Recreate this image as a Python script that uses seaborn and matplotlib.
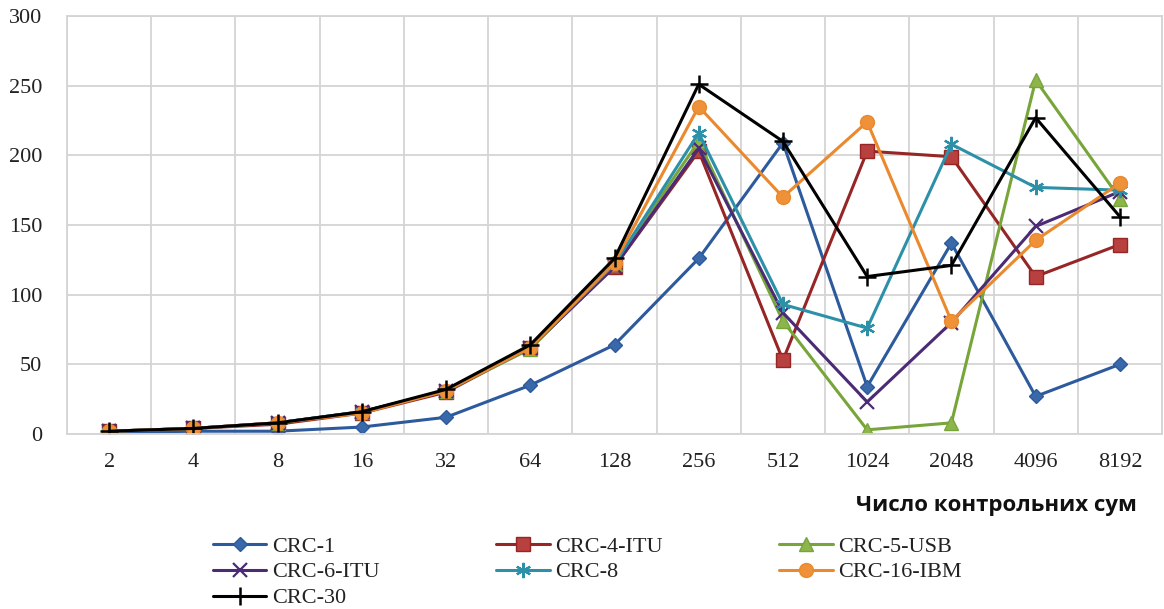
import numpy as np
import pandas as pd
import matplotlib
matplotlib.use("Agg")
import matplotlib.pyplot as plt
import seaborn as sns

categories = ['2', '4', '8', '16', '32', '64', '128', '256', '512', '1024', '2048', '4096', '8192']
crc1 = [1, 2, 2, 5, 12, 35, 64, 126, 209, 34, 137, 27, 50]
crc4_itu = [2, 4, 7, 15, 30, 62, 120, 203, 53, 203, 199, 113, 136]
crc5_usb = [2, 4, 8, 16, 31, 61, 122, 210, 81, 3, 8, 254, 169]
crc6_itu = [2, 4, 8, 16, 31, 62, 120, 205, 87, 23, 80, 149, 174]
crc8 = [2, 4, 8, 16, 31, 62, 122, 216, 93, 76, 208, 177, 175]
crc16_ibm = [2, 4, 8, 15, 31, 62, 123, 235, 170, 224, 81, 139, 180]
crc30 = [2, 4, 8, 16, 32, 64, 126, 251, 210, 113, 121, 227, 156]

series_names = ['CRC-1', 'CRC-4-ITU', 'CRC-5-USB', 'CRC-6-ITU', 'CRC-8', 'CRC-16-IBM', 'CRC-30']
series_values = [crc1, crc4_itu, crc5_usb, crc6_itu, crc8, crc16_ibm, crc30]
yticks = [0, 50, 100, 150, 200, 250, 300]
xlabel = 'Число контрольних сум'

styles = {
    'CRC-1':      dict(color='#2c5a9c', marker='D', mfc='#3a69aa', mec='#2c5a9c', ms=7.5, mew=1.0),
    'CRC-4-ITU':  dict(color='#962626', marker='s', mfc='#b8403e', mec='#962626', ms=9.5, mew=1.0),
    'CRC-5-USB':  dict(color='#78a53a', marker='^', mfc='#8db54c', mec='#78a53a', ms=10, mew=1.0),
    'CRC-6-ITU':  dict(color='#4b2b75', marker='x', mfc='none', mec='#4b2b75', ms=10, mew=1.6),
    'CRC-8':      dict(color='#2d90a9', marker=(6, 2, 0), mfc='none', mec='#2d90a9', ms=11, mew=1.6),
    'CRC-16-IBM': dict(color='#ea892d', marker='o', mfc='#ee9138', mec='#ea892d', ms=10, mew=1.0),
    'CRC-30':     dict(color='#000000', marker='+', mfc='none', mec='#000000', ms=13, mew=1.8),
}

sns.set_theme(style='white')
plt.rcParams['font.family'] = ['Liberation Serif', 'DejaVu Serif']

fig = plt.figure(figsize=(11.64, 6.09), dpi=100)
ax = fig.add_axes([67 / 1164, (609 - 434) / 609, (1162 - 67) / 1164, (434 - 16) / 609])

pos = np.arange(len(categories))
handles = {}
for name, vals in zip(series_names, series_values):
    df = pd.DataFrame({'x': pos, 'y': vals})
    st = styles[name]
    sns.lineplot(data=df, x='x', y='y', ax=ax, color=st['color'], linewidth=2.2,
                 marker=st['marker'], markersize=st['ms'], markerfacecolor=st['mfc'],
                 markeredgecolor=st['mec'], markeredgewidth=st['mew'], legend=False,
                 sort=False)
    handles[name] = ax.lines[-1]

ax.set_xlim(-0.5, len(categories) - 0.5)
ax.set_ylim(0, 300)
ax.set_yticks(yticks)
ax.set_xticks(pos)
ax.set_xticklabels(categories)
ax.set_xticks(np.arange(-0.5, len(categories), 1), minor=True)
ax.grid(False)
ax.grid(True, axis='y', which='major', color='#d4d4d4', linewidth=1.3)
ax.grid(True, axis='x', which='minor', color='#d4d4d4', linewidth=1.3)
ax.set_axisbelow(True)
for sp in ax.spines.values():
    sp.set_color('#d4d4d4')
    sp.set_linewidth(1.3)
ax.tick_params(axis='both', which='both', length=0, labelsize=16, colors='#222222')
ax.tick_params(axis='y', pad=18)
ax.tick_params(axis='x', pad=14)
ax.set_xlabel('')
ax.set_ylabel('')

fig.text(1137 / 1164, 1 - 506 / 609, xlabel, ha='right', va='center',
         fontsize=16, fontweight='bold', family=['Open Sans', 'DejaVu Sans'], color='#111111')

order = ['CRC-1', 'CRC-6-ITU', 'CRC-30', 'CRC-4-ITU', 'CRC-8', 'CRC-5-USB', 'CRC-16-IBM']
leg = fig.legend([handles[n] for n in order], order, loc='upper left',
                 bbox_to_anchor=(213 / 1164, 1 - 536 / 609), ncol=3, frameon=False,
                 fontsize=16, handlelength=2.4, handletextpad=0.25, labelspacing=0.24,
                 columnspacing=5.25, borderpad=0, borderaxespad=0)
for t in leg.get_texts():
    t.set_color('#222222')

fig.savefig('out.png', dpi=100)
